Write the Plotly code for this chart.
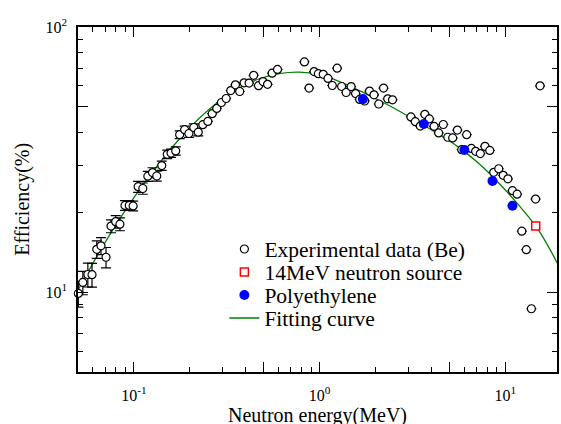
import plotly.graph_objects as go

# Experimental data (Be)
exp_energy = [0.0502, 0.0531, 0.0565, 0.0595, 0.0631, 0.0665, 0.0708, 0.0753, 0.0798, 0.0841,
              0.0895, 0.0944, 0.0991, 0.1054, 0.1117, 0.1189, 0.126, 0.1328, 0.1413, 0.1512,
              0.1585, 0.168, 0.1764, 0.1877, 0.1979, 0.2103, 0.2222, 0.2352, 0.2502, 0.2642,
              0.2796, 0.2962, 0.3141, 0.3324, 0.3523, 0.3715, 0.3922, 0.4173, 0.4416, 0.4691,
              0.4958, 0.5248, 0.5555, 0.5937, 0.829, 0.8785, 0.9343, 0.9854, 1.0467, 1.1106,
              1.1711, 1.2443, 1.3152, 1.3905, 1.4791, 1.5636, 1.6448, 1.7494, 1.8585, 1.9645,
              2.0845, 2.212, 2.3296, 2.4717, 3.1061, 3.2795, 3.4878, 3.6918, 3.9024, 4.1406,
              4.3836, 4.6398, 4.9055, 5.2119, 5.5284, 6.2018, 5.8318, 6.5722, 6.931, 7.3451,
              7.784, 8.2583, 8.6754, 9.2283, 9.7566, 10.339, 10.943, 11.595, 14.575, 12.288,
              12.993, 13.836, 15.409]
exp_eff = [9.89, 10.88, 11.66, 11.64, 14.51, 14.96, 13.54, 17.75, 18.45, 18.05,
           21.24, 21.24, 21.15, 24.99, 24.6, 27.37, 28.26, 27.42, 30.02, 33.11,
           33.45, 34.1, 39.26, 41.0, 39.67, 41.79, 40.12, 42.81, 44.06, 47.1,
           49.3, 51.92, 53.76, 57.56, 60.53, 57.11, 61.58, 61.47, 65.72, 60.1,
           62.28, 60.78, 66.97, 69.16, 73.87, 58.82, 67.92, 66.69, 66.28, 63.97,
           60.16, 69.95, 59.65, 56.62, 59.59, 56.09, 53.34, 52.6, 57.31, 55.51,
           51.25, 58.82, 53.61, 53.15, 45.81, 43.95, 42.29, 46.86, 45.01, 42.19,
           39.85, 42.88, 38.39, 38.16, 40.86, 39.26, 34.48, 34.84, 33.98, 33.31,
           35.48, 34.24, 28.31, 29.21, 27.58, 26.76, 24.14, 23.41, 22.44, 16.99,
           14.46, 8.66, 60.01]
exp_err = [1.1, 1.1, 1.2, 1.2, 1.1, 1.1, 1.2, 1.0, 1.0, 1.0,
           0.9, 0.9, 0.9, 1.2, 1.2, 1.2, 1.2, 1.2, 1.2, 1.2,
           1.2, 1.2, 1.3, 1.3, 1.3, 1.3, 1.3] + [None] * 66

# 14 MeV neutron source
src_energy = [14.6]
src_eff = [17.78]

# Polyethylene
pe_energy = [1.711, 3.646, 6.027, 8.539, 10.94]
pe_eff = [53.47, 43.08, 34.39, 26.26, 21.18]

# Fitting curve
fit_energy = [0.0502, 0.0657, 0.0841, 0.1077, 0.1378, 0.1764, 0.2259, 0.2891, 0.3702, 0.4738,
              0.6066, 0.7764, 0.9938, 1.272, 1.629, 2.085, 2.669, 3.416, 4.373, 5.598,
              7.166, 9.174, 11.74, 15.03, 19.48]
fit_eff = [10.24, 14.30, 18.94, 24.45, 30.82, 37.90, 45.34, 52.57, 58.93, 63.80,
           66.69, 67.55, 66.11, 62.39, 57.71, 52.93, 48.33, 43.75, 39.44, 35.24,
           30.68, 25.92, 21.42, 17.25, 12.52]

x_major = [0.1, 0.5, 1, 5, 10]
x_major_text = ["10<sup>-1</sup>", "", "10<sup>0</sup>", "", "10<sup>1</sup>"]
x_minor = [0.06, 0.07, 0.08, 0.09, 0.2, 0.3, 0.4, 0.6, 0.7, 0.8, 0.9,
           2, 3, 4, 6, 7, 8, 9]
y_major = [10, 50, 100]
y_major_text = ["10<sup>1</sup>", "", "10<sup>2</sup>"]
y_minor = [6, 7, 8, 9, 20, 30, 40, 60, 70, 80, 90]

FONT = "Times New Roman, Liberation Serif, Times, serif"

fig = go.Figure()
fig.add_trace(go.Scatter(
    x=fit_energy, y=fit_eff, mode="lines", name="Fitting curve",
    line=dict(color="#008000", width=1.3, shape="spline"),
    legend="legend4"))
fig.add_trace(go.Scatter(
    x=exp_energy, y=exp_eff, mode="markers", name="Experimental data (Be)",
    marker=dict(symbol="circle", size=8, color="white", line=dict(color="black", width=1.2)),
    error_y=dict(type="data", array=exp_err, visible=True, color="black", thickness=1.2, width=5),
    cliponaxis=False, legend="legend"))
fig.add_trace(go.Scatter(
    x=src_energy, y=src_eff, mode="markers", name="14MeV neutron source",
    marker=dict(symbol="square", size=8, color="white", line=dict(color="red", width=1.5)),
    cliponaxis=False, legend="legend2"))
fig.add_trace(go.Scatter(
    x=pe_energy, y=pe_eff, mode="markers", name="Polyethylene",
    marker=dict(symbol="circle", size=10, color="blue"),
    cliponaxis=False, legend="legend3"))

legend_common = dict(x=0.3056, xanchor="left", yanchor="middle", bgcolor="rgba(0,0,0,0)",
                     font=dict(family=FONT, size=21.5, color="black"))

axis_common = dict(type="log", showline=True, linecolor="black", linewidth=1.5, mirror="ticks",
                   ticks="inside", ticklen=10, tickwidth=1.2, tickcolor="black",
                   showgrid=False, zeroline=False,
                   tickfont=dict(family=FONT, size=16, color="black"))

fig.update_layout(
    width=561, height=424,
    margin=dict(l=78, r=2, t=27, b=52),
    paper_bgcolor="white", plot_bgcolor="white",
    showlegend=True,
    font=dict(family=FONT, color="black"),
    xaxis=dict(range=[-1.301, 1.279], tickmode="array", tickvals=x_major, ticktext=x_major_text,
               minor=dict(tickmode="array", tickvals=x_minor, ticks="inside", ticklen=5,
                          tickwidth=1.2, tickcolor="black"),
               ticklabelstandoff=8, **axis_common),
    yaxis=dict(range=[0.69897, 2], tickmode="array", tickvals=y_major, ticktext=y_major_text,
               minor=dict(tickmode="array", tickvals=y_minor, ticks="inside", ticklen=5,
                          tickwidth=1.2, tickcolor="black"),
               ticklabelstandoff=6, **axis_common),
    legend=dict(y=0.3565, visible=True, **legend_common),
    legend2=dict(y=0.2899, **legend_common),
    legend3=dict(y=0.2232, **legend_common),
    legend4=dict(y=0.1565, **legend_common),
    annotations=[
        dict(text="Neutron energy(MeV)", xref="paper", yref="paper", x=0.5, y=-0.1275,
             xanchor="center", yanchor="middle", showarrow=False,
             font=dict(family=FONT, size=20, color="black")),
        dict(text="Efficiency(%)", xref="paper", yref="paper", x=-0.1164, y=0.5,
             xanchor="center", yanchor="middle", showarrow=False, textangle=-90,
             font=dict(family=FONT, size=20, color="black")),
    ],
)

fig.write_html("out.html")
